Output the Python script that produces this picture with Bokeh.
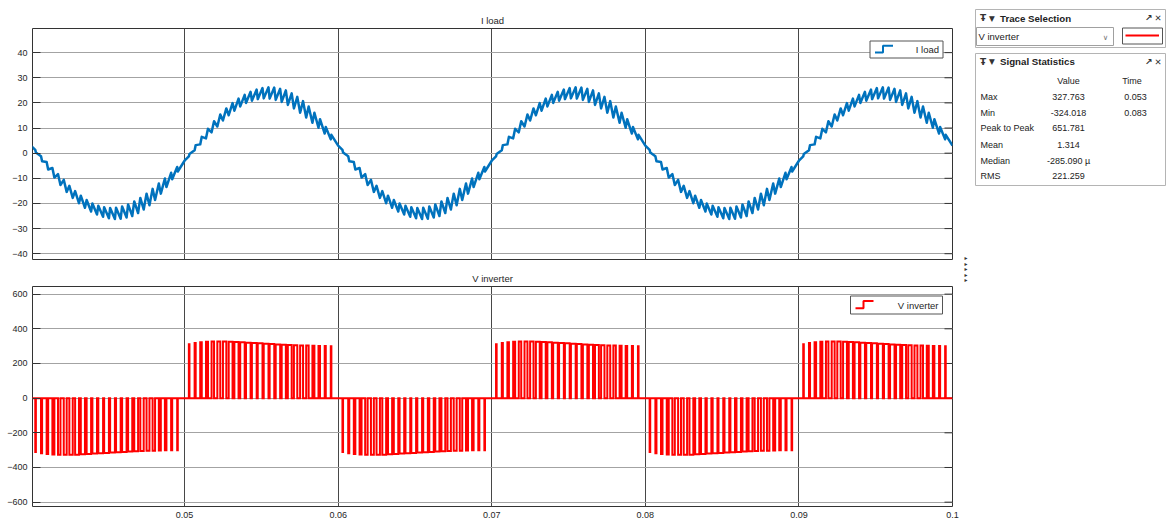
import numpy as np
from bokeh.plotting import figure
from bokeh.models import (Range1d, FixedTicker, Label, BoxAnnotation, PolyAnnotation)
from bokeh.layouts import row, column
from bokeh.embed import file_html
from bokeh.resources import INLINE
from bokeh.core.properties import value

# ------------------------------------------------------------------ data
# start time (s) and polarity of each half cycle of the inverter output
half_cycle_start_s = [0.040, 0.050, 0.060, 0.070, 0.080, 0.090]
half_cycle_sign = [-1, 1, -1, 1, -1, 1]
half_cycle_ms = 10.0

# PWM pulses inside one half cycle
pulse_center_ms = [0.30, 0.69, 1.07, 1.46, 1.84, 2.23, 2.61, 3.00, 3.38, 3.77,
                   4.15, 4.54, 4.92, 5.31, 5.69, 6.08, 6.46, 6.85, 7.23, 7.62,
                   8.00, 8.39, 8.77, 9.16, 9.54]
pulse_width_ms = [0.04, 0.07, 0.10, 0.13, 0.16, 0.19, 0.22, 0.25, 0.27, 0.29,
                  0.30, 0.31, 0.31, 0.31, 0.30, 0.29, 0.27, 0.25, 0.22, 0.19,
                  0.16, 0.13, 0.10, 0.07, 0.04]
pulse_height_v = [311, 318, 322, 325, 327, 327, 327, 326, 324, 322,
                  320, 318, 316, 314, 312, 310, 308, 307, 305, 304,
                  303, 302, 301, 301, 300]

# load current at the start / end of every pulse (A, positive half cycle)
i_load_pulse_start = [-1.3, 1.2, 3.5, 5.9, 8.3, 10.6, 13.0, 15.1, 16.9, 18.6,
                      20.0, 20.9, 21.5, 21.8, 21.7, 21.2, 20.4, 19.2, 17.8, 16.1,
                      14.2, 12.1, 10.1, 7.8, 5.5]
i_load_pulse_end = [-0.3, 3.2, 6.5, 9.7, 12.7, 15.4, 17.8, 19.9, 21.7, 23.2,
                    24.4, 25.3, 25.9, 26.2, 26.1, 25.6, 25.0, 23.8, 22.4, 20.7,
                    18.6, 16.1, 13.5, 10.4, 7.3]
i_load_half_end = 3.0

x_ticks = [0.05, 0.06, 0.07, 0.08, 0.09, 0.1]
x_tick_labels = ["0.05", "0.06", "0.07", "0.08", "0.09", "0.1"]
i_ticks = [-40, -30, -20, -10, 0, 10, 20, 30, 40]
v_ticks = [-600, -400, -200, 0, 200, 400, 600]
x_limits = (0.0401, 0.1)
i_limits = (-42.3, 49.6)
v_limits = (-625, 644)

stat_names = ["Max", "Min", "Peak to Peak", "Mean", "Median", "RMS"]
stat_values = ["327.763", "-324.018", "651.781", "1.314", "-285.090 \u00b5", "221.259"]
stat_times = ["0.053", "0.083"]

# ------------------------------------------------------------------ series
t_v, v_inv = [half_cycle_start_s[0]], [0.0]
t_i, i_load = [half_cycle_start_s[0]], [-half_cycle_sign[0] * i_load_half_end]
for S, sg in zip(half_cycle_start_s, half_cycle_sign):
    for c, w, h, lo, hi in zip(pulse_center_ms, pulse_width_ms, pulse_height_v,
                               i_load_pulse_start, i_load_pulse_end):
        ts = S + (c - w / 2) / 1000.0
        te = S + (c + w / 2) / 1000.0
        t_v += [ts, ts, te, te]
        v_inv += [0.0, sg * h, sg * h, 0.0]
        t_i += [ts, te]
        i_load += [sg * lo, sg * hi]
    t_i.append(S + half_cycle_ms / 1000.0)
    i_load.append(sg * i_load_half_end)
t_v.append(x_limits[1])
v_inv.append(0.0)

FONT = "Liberation Sans"
TXT = "#262626"
W = 962
B_LEFT, B_RIGHT = 32, 10
FW = W - B_LEFT - B_RIGHT


def scope(height, y_limits, y_ticks, b_top, b_bottom, title, title_standoff, show_x):
    p = figure(width=W, height=height, x_range=Range1d(*x_limits),
               y_range=Range1d(*y_limits), output_backend="svg",
               toolbar_location=None, title=title,
               x_axis_location="below" if show_x else None,
               min_border_left=B_LEFT, min_border_right=B_RIGHT,
               min_border_top=b_top, min_border_bottom=b_bottom)
    p.background_fill_color = "white"
    p.border_fill_color = "white"
    p.outline_line_color = "#333333"
    p.outline_line_width = 1
    p.title.align = "center"
    p.title.text_font = FONT
    p.title.text_font_size = "9.5px"
    p.title.text_font_style = "normal"
    p.title.text_color = TXT
    p.title.standoff = title_standoff
    ya = p.yaxis[0]
    ya.ticker = FixedTicker(ticks=y_ticks)
    ya.axis_line_color = None
    ya.major_tick_in = 8
    ya.major_tick_out = 0
    ya.major_tick_line_color = "#333333"
    ya.minor_tick_line_color = None
    ya.major_label_standoff = 5
    ya.major_label_text_font = FONT
    ya.major_label_text_font_size = "9px"
    ya.major_label_text_color = TXT
    if show_x:
        xa = p.xaxis[0]
        xa.ticker = FixedTicker(ticks=x_ticks)
        xa.major_label_overrides = dict(zip(x_ticks, x_tick_labels))
        xa.axis_line_color = None
        xa.major_tick_in = 0
        xa.major_tick_out = 0
        xa.minor_tick_line_color = None
        xa.major_label_standoff = 5
        xa.major_label_text_font = FONT
        xa.major_label_text_font_size = "9px"
        xa.major_label_text_color = TXT
    p.xgrid.ticker = FixedTicker(ticks=x_ticks)
    p.ygrid.ticker = FixedTicker(ticks=y_ticks)
    p.xgrid.grid_line_color = "#474747"
    p.ygrid.grid_line_color = "#a3a3a3"
    # inward tick marks on the right edge of the frame
    tick_len = 8 * (x_limits[1] - x_limits[0]) / FW
    p.segment(x0=[x_limits[1] - tick_len] * len(y_ticks), y0=y_ticks,
              x1=[x_limits[1]] * len(y_ticks), y1=y_ticks,
              line_color="#333333", line_width=1)
    return p


def step_legend(p, fh, text, color, box_w, box_h, gap_top, gap_right):
    r = FW - gap_right
    l = r - box_w
    t = fh - gap_top
    b = t - box_h
    p.add_layout(BoxAnnotation(left=l, right=r, top=t, bottom=b,
                               left_units="screen", right_units="screen",
                               top_units="screen", bottom_units="screen",
                               fill_color="white", fill_alpha=1.0,
                               line_color="#555555", line_width=1, line_alpha=1.0))
    x0, x1, x2 = l + 5, l + 13, l + 23
    ylo, yhi = b + 0.32 * box_h, b + 0.72 * box_h
    p.add_layout(PolyAnnotation(xs=[x0, x1, x1, x2, x1, x1],
                                ys=[ylo, ylo, yhi, yhi, yhi, ylo],
                                xs_units="screen", ys_units="screen",
                                fill_alpha=0, line_alpha=1.0,
                                line_color=color, line_width=2))
    p.add_layout(Label(x=r - 4, y=b + box_h / 2, x_units="screen", y_units="screen",
                       text=text, text_align="right", text_baseline="middle",
                       text_font=FONT, text_font_size="9.5px", text_color=TXT))


# top scope: load current
H1_FRAME = 231
p1 = scope(28 + H1_FRAME + 8, i_limits, i_ticks, 28, 8, "I load", 6, False)
p1.line(t_i, i_load, line_width=2.5, line_color="#0072BD", line_join="round")
step_legend(p1, H1_FRAME, "I load", "#0072BD", 73, 17, 12.5, 9.5)

# bottom scope: inverter voltage
H2_FRAME = 220
p2 = scope(19 + H2_FRAME + 16, v_limits, v_ticks, 19, 16, "V inverter", 5, True)
p2.line(t_v, v_inv, line_width=2, line_color="#FF0000", line_join="miter")
step_legend(p2, H2_FRAME, "V inverter", "#FF0000", 92, 18, 9.5, 10)

# side panel (Trace Selection / Signal Statistics)
SW, SH = 204, 522
p3 = figure(width=SW, height=SH, x_range=Range1d(0, SW), y_range=Range1d(SH, 0),
            output_backend="svg", toolbar_location=None,
            x_axis_location=None, y_axis_location=None,
            min_border=0, min_border_left=0, min_border_right=0,
            min_border_top=0, min_border_bottom=0)
p3.grid.visible = False
p3.outline_line_color = None
p3.background_fill_color = "white"
p3.border_fill_color = "white"

# panel frames
p3.quad(left=[13, 13], right=[203, 203], top=[9, 53], bottom=[47, 185],
        fill_color="white", line_color="#b4b4b4", line_width=1)
# dropdown and colour swatch
p3.quad(left=[14], right=[151], top=[27], bottom=[45],
        fill_color="white", line_color="#a0a0a0", line_width=1)
p3.quad(left=[160], right=[200], top=[27.5], bottom=[43.5],
        fill_color="white", line_color="#555555", line_width=1)
p3.segment(x0=[163], y0=[35], x1=[196.5], y1=[35], line_color="#FF0000", line_width=2)

hdr_y = [17.5, 61]
p3.text(x=[20.5] * 2, y=hdr_y, text=["\u0166"] * 2, text_font=value("DejaVu Sans"),
        text_font_size="9px", text_align="center", text_baseline="middle",
        text_color="#333333", text_font_style="bold")
p3.text(x=[29.5] * 2, y=hdr_y, text=["\u25bc"] * 2, text_font=value("DejaVu Sans"),
        text_font_size="7.5px", text_align="center", text_baseline="middle",
        text_color="#333333")
p3.text(x=[37.5] * 2, y=hdr_y, text=["Trace Selection", "Signal Statistics"],
        text_font=value(FONT), text_font_size="9.7px", text_font_style="bold",
        text_align="left", text_baseline="middle", text_color="#222222")
p3.text(x=[186] * 2, y=hdr_y, text=["\u2197"] * 2, text_font=value("DejaVu Sans"),
        text_font_size="9px", text_font_style="bold", text_align="center",
        text_baseline="middle", text_color="#333333")
p3.text(x=[195.5] * 2, y=hdr_y, text=["\u2715"] * 2, text_font=value("DejaVu Sans"),
        text_font_size="8.5px", text_font_style="bold", text_align="center",
        text_baseline="middle", text_color="#333333")
p3.text(x=[16], y=[36], text=["V inverter"], text_font=value(FONT),
        text_font_size="9.5px", text_align="left", text_baseline="middle",
        text_color="#222222")
p3.text(x=[143], y=[36.5], text=["\u2228"], text_font=value("DejaVu Sans"),
        text_font_size="7.5px", text_align="center", text_baseline="middle",
        text_color="#777777")

# statistics table
p3.text(x=[106, 169.5], y=[80.7, 80.7], text=["Value", "Time"], text_font=value(FONT),
        text_font_size="9px", text_align="center", text_baseline="middle",
        text_color="#222222")
row_y = [96.7, 112, 127.7, 144, 160, 175.7]
p3.text(x=[18] * len(stat_names), y=row_y, text=stat_names, text_font=value(FONT),
        text_font_size="9px", text_align="left", text_baseline="middle",
        text_color="#222222")
p3.text(x=[106] * len(stat_values), y=row_y, text=stat_values, text_font=value(FONT),
        text_font_size="9px", text_align="center", text_baseline="middle",
        text_color="#222222")
p3.text(x=[173] * len(stat_times), y=row_y[:len(stat_times)], text=stat_times,
        text_font=value(FONT), text_font_size="9px", text_align="center",
        text_baseline="middle", text_color="#222222")

# small splitter arrows between the scopes
p3.text(x=[3.5] * 5, y=[257, 262.5, 268, 273.5, 279], text=["\u25b8"] * 5,
        text_font=value("DejaVu Sans"), text_font_size="6px", text_align="center",
        text_baseline="middle", text_color="#333333")

layout = row(column(p1, p2), p3)
open("out.html", "w").write(file_html(layout, INLINE))
